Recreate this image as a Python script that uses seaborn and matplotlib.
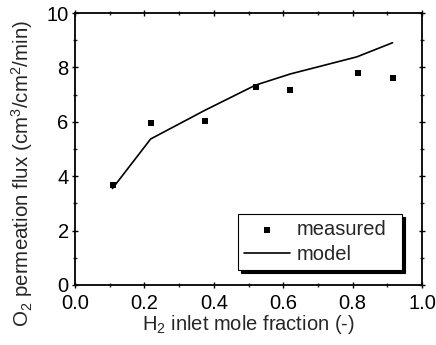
import matplotlib
matplotlib.use("Agg")
import matplotlib.pyplot as plt
import seaborn as sns
import pandas as pd
from matplotlib.ticker import MultipleLocator, FormatStrFormatter

# Measured O2 permeation flux vs. H2 inlet mole fraction
measured_x = [0.110, 0.218, 0.376, 0.521, 0.620, 0.816, 0.915]
measured_y = [3.68, 5.96, 6.02, 7.28, 7.19, 7.78, 7.60]

# Model prediction
model_x = [0.108, 0.218, 0.375, 0.520, 0.620, 0.812, 0.915]
model_y = [3.55, 5.37, 6.43, 7.35, 7.76, 8.39, 8.91]

sns.set_theme(style="ticks")
plt.rcParams["font.family"] = ["Liberation Sans", "DejaVu Sans"]
plt.rcParams["mathtext.fontset"] = "custom"
plt.rcParams["mathtext.rm"] = "Liberation Sans"
plt.rcParams["mathtext.it"] = "Liberation Sans:italic"

df_meas = pd.DataFrame({"x": measured_x, "y": measured_y})
df_model = pd.DataFrame({"x": model_x, "y": model_y})

fig = plt.figure(figsize=(4.36, 3.45), dpi=100)
ax = fig.add_axes([0.172, 0.174, 0.796, 0.788])

sns.lineplot(data=df_model, x="x", y="y", ax=ax, color="black", linewidth=1.2,
             label="model", sort=False)
sns.scatterplot(data=df_meas, x="x", y="y", ax=ax, color="black", marker="s",
                s=22, linewidth=0, label="measured")

ax.set_xlim(0.0, 1.0)
ax.set_ylim(0, 10)
ax.xaxis.set_major_locator(MultipleLocator(0.2))
ax.xaxis.set_minor_locator(MultipleLocator(0.1))
ax.yaxis.set_major_locator(MultipleLocator(2))
ax.yaxis.set_minor_locator(MultipleLocator(1))
ax.xaxis.set_major_formatter(FormatStrFormatter("%.1f"))

for side in ["left", "bottom", "right", "top"]:
    ax.spines[side].set_visible(True)
    ax.spines[side].set_color("black")
    ax.spines[side].set_linewidth(1.3)

ax.tick_params(which="major", direction="inout", length=5, width=1.0,
               top=True, right=True, labelsize=14.5, colors="black", pad=2)
ax.tick_params(which="minor", direction="inout", length=3, width=1.0,
               top=True, right=True)
ax.tick_params(axis="x", which="major", pad=4)

ax.set_xlabel("H$_2$ inlet mole fraction (-)", fontsize=14.5, labelpad=0)
ax.set_ylabel("O$_2$ permeation flux (cm$^3$/cm$^2$/min)", fontsize=14.8)
ax.yaxis.set_label_coords(-0.115, 0.41)

handles, labels = ax.get_legend_handles_labels()
order = [labels.index("measured"), labels.index("model")]
leg = ax.legend([handles[i] for i in order], [labels[i] for i in order],
                loc="lower left", bbox_to_anchor=(0.470, 0.055, 0.473, 0.2),
                mode="expand", frameon=True, fancybox=False, edgecolor="black",
                shadow={"color": "black", "alpha": 1.0}, fontsize=14.5,
                handlelength=2.3, handletextpad=0.3, borderpad=0.3,
                labelspacing=0.3, borderaxespad=0)
leg.get_frame().set_linewidth(0.8)

fig.savefig("out.png", dpi=100)
